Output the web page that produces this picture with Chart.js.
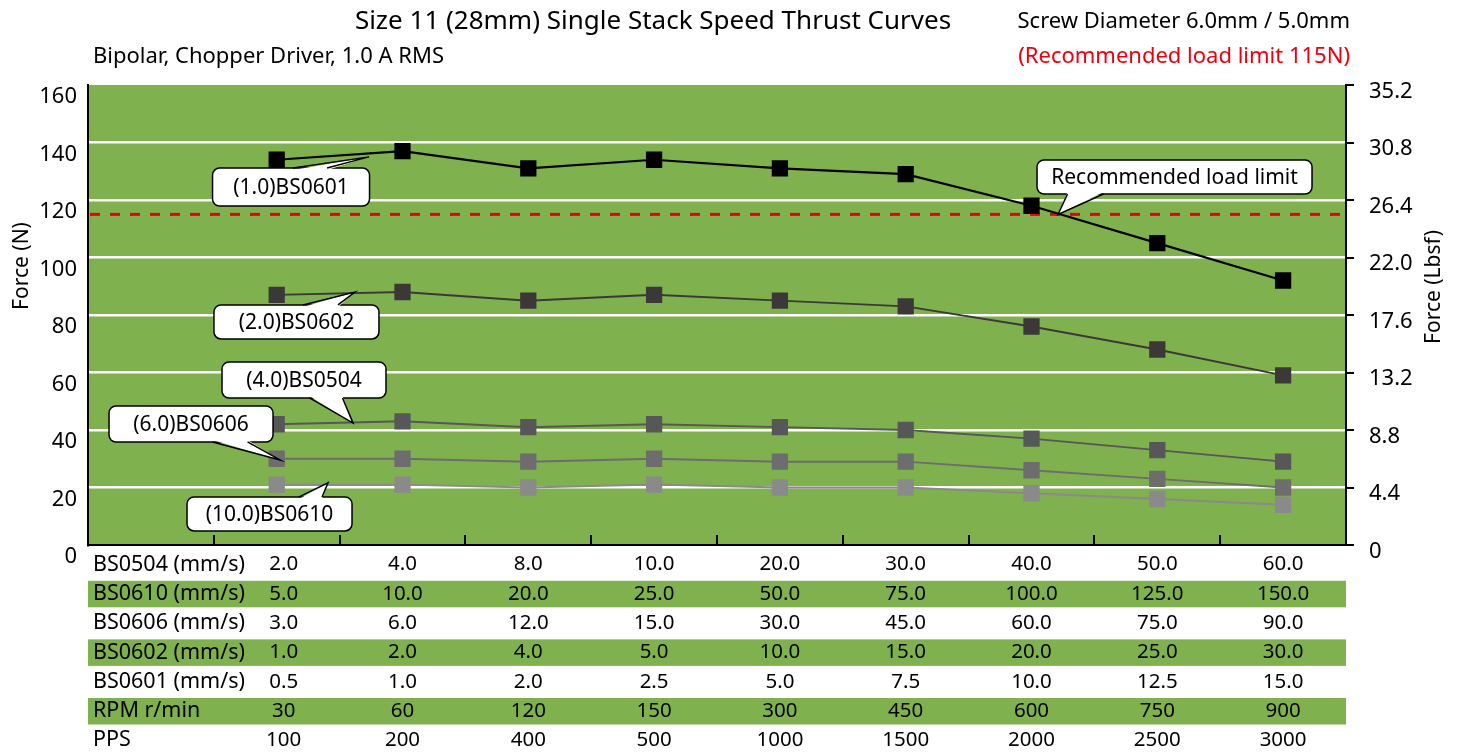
<!DOCTYPE html>
<html lang="en">
<head>
    <meta charset="UTF-8">
    <title>Size 11 Single Stack Speed Thrust Curves</title>
    <script src="https://cdn.jsdelivr.net/npm/chart.js"></script>
    <style>
        html, body { margin: 0; padding: 0; background: #fff; }
        #wrap { width: 1458px; height: 752px; }
    </style>
</head>
<body>
    <div id="wrap"><canvas id="thrustChart"></canvas></div>
    <script>
        // --- data ---
        const pps = ['100', '200', '400', '500', '1000', '1500', '2000', '2500', '3000'];
        const bs0601 = [134, 137, 131, 134, 131, 129, 118, 105, 92];
        const bs0602 = [87, 88, 85, 87, 85, 83, 76, 68, 59];
        const bs0504 = [42, 43, 41, 42, 41, 40, 37, 33, 29];
        const bs0606 = [30, 30, 29, 30, 29, 29, 26, 23, 20];
        const bs0610 = [21, 21, 20, 21, 20, 20, 18, 16, 14];
        const loadLimit = 115;

        const tableRows = [
            { label: 'BS0504 (mm/s)', values: ['2.0', '4.0', '8.0', '10.0', '20.0', '30.0', '40.0', '50.0', '60.0'] },
            { label: 'BS0610 (mm/s)', values: ['5.0', '10.0', '20.0', '25.0', '50.0', '75.0', '100.0', '125.0', '150.0'] },
            { label: 'BS0606 (mm/s)', values: ['3.0', '6.0', '12.0', '15.0', '30.0', '45.0', '60.0', '75.0', '90.0'] },
            { label: 'BS0602 (mm/s)', values: ['1.0', '2.0', '4.0', '5.0', '10.0', '15.0', '20.0', '25.0', '30.0'] },
            { label: 'BS0601 (mm/s)', values: ['0.5', '1.0', '2.0', '2.5', '5.0', '7.5', '10.0', '12.5', '15.0'] },
            { label: 'RPM r/min', values: ['30', '60', '120', '150', '300', '450', '600', '750', '900'] },
            { label: 'PPS', values: pps }
        ];

        // callouts: box centre and pointer tip in data units (slot index, N)
        const callouts = [
            { text: '(1.0)BS0601', cx: 1.114, cy: 124.5, w: 157, h: 38, tx: 1.734, ty: 135, side: 'top', dx: 19, bw: 34 },
            { text: '(2.0)BS0602', cx: 1.157, cy: 77.6, w: 165, h: 34, tx: 1.622, ty: 88, side: 'top', dx: 24, bw: 35 },
            { text: '(4.0)BS0504', cx: 1.217, cy: 57.4, w: 164, h: 36, tx: 1.607, ty: 42.4, side: 'bottom', dx: 22, bw: 33 },
            { text: '(6.0)BS0606', cx: 0.319, cy: 42.1, w: 164, h: 36, tx: 1.026, ty: 29.6, side: 'bottom', dx: 39, bw: 35 },
            { text: '(10.0)BS0610', cx: 0.943, cy: 10.8, w: 165, h: 34, tx: 1.408, ty: 21.6, side: 'top', dx: 41, bw: 23 },
            { text: 'Recommended load limit', cx: 8.137, cy: 128, w: 275, h: 34, tx: 7.211, ty: 115, side: 'bottom', dx: -89, bw: 36 }
        ];

        const FONT = "'Noto Sans', 'Open Sans', sans-serif";
        const GREEN = '#7fb14f';

        // first slot is empty (row labels of the table sit there)
        const labels = [''].concat(pps);
        const pad = arr => [null].concat(arr);

        function series(label, data, color, width) {
            return {
                label: label,
                data: pad(data),
                borderColor: color,
                backgroundColor: color,
                borderWidth: width,
                pointStyle: 'rect',
                pointRadius: 11.5,
                pointBorderWidth: 0,
                pointHoverRadius: 11.5,
                tension: 0,
                yAxisID: 'y'
            };
        }

        const decorPlugin = {
            id: 'decor',
            beforeDraw(chart) {
                const { ctx, chartArea: a } = chart;
                ctx.save();
                ctx.fillStyle = GREEN;
                ctx.fillRect(a.left, a.top, a.right - a.left, a.bottom - a.top);
                ctx.restore();
            },
            beforeDatasetsDraw(chart) {
                const { ctx, chartArea: a, scales } = chart;
                const y = scales.y.getPixelForValue(loadLimit);
                ctx.save();
                ctx.strokeStyle = '#ea0010';
                ctx.lineWidth = 3;
                ctx.setLineDash([10, 10]);
                ctx.beginPath();
                ctx.moveTo(a.left + 2, y);
                ctx.lineTo(a.right, y);
                ctx.stroke();
                ctx.restore();
            },
            afterDatasetsDraw(chart) {
                const { ctx, chartArea: a, scales } = chart;
                const x = scales.x, yS = scales.y;

                // inward tick marks on the x axis at slot borders
                ctx.save();
                ctx.strokeStyle = '#000';
                ctx.lineWidth = 2;
                for (let k = 0; k < pps.length; k++) {
                    const px = Math.round(x.getPixelForValue(k + 0.5));
                    ctx.beginPath();
                    ctx.moveTo(px, a.bottom);
                    ctx.lineTo(px, a.bottom - 10);
                    ctx.stroke();
                }
                ctx.restore();

                // callouts
                ctx.save();
                ctx.font = '21px ' + FONT;
                ctx.textAlign = 'center';
                ctx.textBaseline = 'middle';
                callouts.forEach(c => {
                    const cx = x.getPixelForValue(c.cx), cy = yS.getPixelForValue(c.cy);
                    const tx = x.getPixelForValue(c.tx), ty = yS.getPixelForValue(c.ty);
                    const l = cx - c.w / 2, t = cy - c.h / 2;
                    const edge = c.side === 'top' ? t : t + c.h;
                    const inner = c.side === 'top' ? edge + 2 : edge - 2;
                    const b1 = cx + c.dx - c.bw / 2, b2 = cx + c.dx + c.bw / 2;
                    ctx.fillStyle = '#fff';
                    ctx.strokeStyle = '#000';
                    ctx.lineWidth = 1.5;
                    ctx.beginPath();
                    ctx.roundRect(l, t, c.w, c.h, 7);
                    ctx.fill();
                    ctx.stroke();
                    ctx.beginPath();
                    ctx.moveTo(tx, ty);
                    ctx.lineTo(b1, inner);
                    ctx.lineTo(b2, inner);
                    ctx.closePath();
                    ctx.fill();
                    ctx.beginPath();
                    ctx.moveTo(b1, edge);
                    ctx.lineTo(tx, ty);
                    ctx.lineTo(b2, edge);
                    ctx.stroke();
                    ctx.fillStyle = '#000';
                    ctx.fillText(c.text, cx, cy + 1);
                });
                ctx.restore();
            },
            afterDraw(chart) {
                const { ctx, chartArea: a, scales } = chart;
                const x = scales.x;
                ctx.save();
                // titles
                ctx.fillStyle = '#000';
                ctx.textBaseline = 'middle';
                ctx.font = '26px ' + FONT;
                ctx.textAlign = 'center';
                ctx.fillText('Size 11 (28mm) Single Stack Speed Thrust Curves', 653, 22);
                ctx.font = '22px ' + FONT;
                ctx.textAlign = 'right';
                ctx.fillText('Screw Diameter 6.0mm / 5.0mm', 1350, 22);
                ctx.fillStyle = '#ea0010';
                ctx.fillText('(Recommended load limit 115N)', 1350, 57);
                ctx.fillStyle = '#000';
                ctx.textAlign = 'left';
                ctx.fillText('Bipolar, Chopper Driver, 1.0 A RMS', 93, 57);

                // axis titles (both read bottom to top)
                ctx.font = '21px ' + FONT;
                ctx.textAlign = 'center';
                [['Force (N)', 22, 266], ['Force (Lbsf)', 1434, 287]].forEach(([t, px, py]) => {
                    ctx.save();
                    ctx.translate(px, py);
                    ctx.rotate(-Math.PI / 2);
                    ctx.fillText(t, 0, 0);
                    ctx.restore();
                });

                // speed table
                const rowH = 29.3;
                tableRows.forEach((row, i) => {
                    const cy = a.bottom + 19.5 + i * rowH;
                    if (i % 2 === 1) {
                        ctx.fillStyle = GREEN;
                        ctx.fillRect(a.left, cy - 13, a.right - a.left, 26.5);
                    }
                    ctx.fillStyle = '#000';
                    ctx.font = '21.5px ' + FONT;
                    ctx.textAlign = 'left';
                    ctx.fillText(row.label, a.left + 5, cy);
                    ctx.font = '20.5px ' + FONT;
                    ctx.textAlign = 'center';
                    row.values.forEach((v, j) => {
                        ctx.fillText(v, x.getPixelForValue(j + 1) + (j === 0 ? 7 : 0), cy);
                    });
                });
                ctx.restore();
            }
        };

        const ctx = document.getElementById('thrustChart').getContext('2d');
        new Chart(ctx, {
            type: 'line',
            data: {
                labels: labels,
                datasets: [
                    series('BS0601', bs0601, '#000000', 2.2),
                    series('BS0602', bs0602, '#3c3838', 2),
                    series('BS0504', bs0504, '#575757', 2),
                    series('BS0606', bs0606, '#6d6d6d', 2),
                    series('BS0610', bs0610, '#8a8a8a', 2)
                ]
            },
            options: {
                responsive: true,
                maintainAspectRatio: false,
                animation: false,
                events: [],
                layout: { padding: { top: 85, left: 0, right: 0, bottom: 0 } },
                plugins: {
                    legend: { display: false },
                    tooltip: { enabled: false },
                    title: { display: false }
                },
                scales: {
                    x: {
                        type: 'category',
                        offset: true,
                        afterFit: s => { s.height = 207; },
                        grid: { display: false, drawTicks: false },
                        border: { display: true, color: '#000', width: 2 },
                        ticks: { display: false }
                    },
                    y: {
                        position: 'left',
                        min: 0,
                        max: 160,
                        afterFit: s => { s.width = 88; },
                        border: { display: true, color: '#000', width: 2 },
                        grid: {
                            drawTicks: false,
                            lineWidth: 2.5,
                            color: c => (c.tick && c.tick.value > 0 && c.tick.value < 160) ? '#ffffff' : 'rgba(0,0,0,0)'
                        },
                        ticks: {
                            stepSize: 20,
                            padding: 11,
                            labelOffset: 12,
                            color: '#000',
                            font: { family: FONT, size: 22 }
                        }
                    },
                    y1: {
                        position: 'right',
                        min: 0,
                        max: 35.2,
                        afterFit: s => { s.width = 112; },
                        border: { display: true, color: '#000', width: 2 },
                        grid: {
                            drawOnChartArea: false,
                            drawTicks: true,
                            tickLength: 8,
                            color: '#000',
                            lineWidth: 2
                        },
                        ticks: {
                            stepSize: 4.4,
                            padding: 15,
                            labelOffset: 6.5,
                            color: '#000',
                            font: { family: FONT, size: 22 },
                            callback: v => (Math.abs(v) < 1e-6 ? '0' : Number(v).toFixed(1))
                        }
                    }
                }
            },
            plugins: [decorPlugin]
        });
    </script>
</body>
</html>
